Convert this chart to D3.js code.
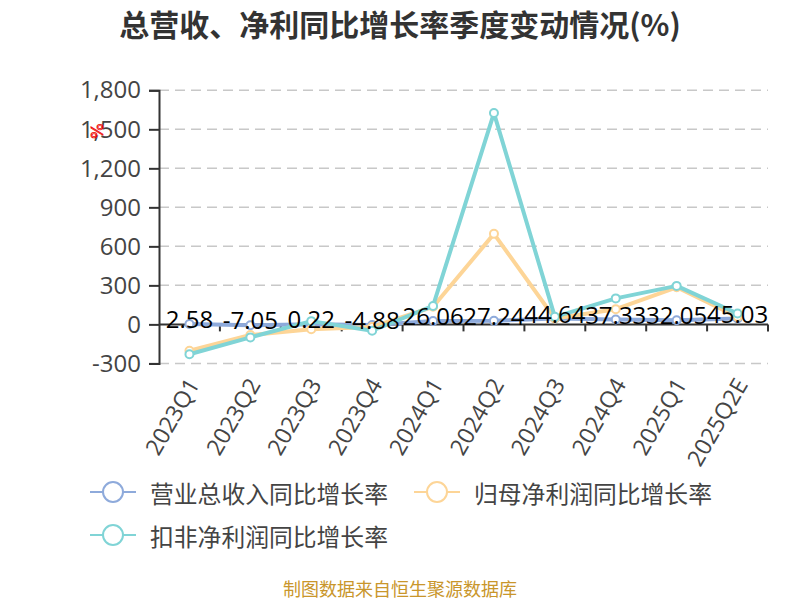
<!DOCTYPE html>
<html>
<head>
<meta charset="utf-8">
<script src="https://cdn.jsdelivr.net/npm/d3@7/dist/d3.min.js"></script>
<style>
  html, body { margin: 0; padding: 0; background: #fff; }
  svg { display: block; }
</style>
</head>
<body>
<svg id="chart" width="800" height="600"></svg>
<script>
const categories = ["2023Q1","2023Q2","2023Q3","2023Q4","2024Q1","2024Q2","2024Q3","2024Q4","2025Q1","2025Q2E"];
const revenueGrowth = [2.58, -7.05, 0.22, -4.88, 26.06, 27.24, 44.64, 37.33, 32.05, 45.03];
const netProfitGrowth = [-203, -82, -38, -20, 135, 696, 45, 117, 285, 58];
const deductedProfitGrowth = [-230, -100, 25, -49, 142, 1625, 58, 200, 296, 84];
const yTicks = [-300, 0, 300, 600, 900, 1200, 1500, 1800];
const seriesNames = ["营业总收入同比增长率", "归母净利润同比增长率", "扣非净利润同比增长率"];
const seriesColors = ["#8eaadb", "#fdd597", "#80d4d6"];
const titleText = "总营收、净利同比增长率季度变动情况(%)";
const footerText = "制图数据来自恒生聚源数据库";

(function () {
const svg = d3.select("#chart");
const font = "'Open Sans', 'Noto Sans CJK SC', sans-serif";
const pLeft = 159, pRight = 768, pTop = 90.3, pBottom = 363.4;

const x = d3.scaleBand().domain(categories).range([pLeft, pRight]);
const cx = c => x(c) + x.bandwidth() / 2;
const y = d3.scaleLinear().domain([-300, 1800]).range([pBottom, pTop]);
const fmt = d => d3.format(",")(d).replace("−", "-");

// title
svg.append("text").attr("x", 400).attr("y", 36).attr("text-anchor", "middle")
  .attr("font-family", "'Noto Sans CJK SC', sans-serif").attr("font-weight", "bold")
  .attr("font-size", 30).attr("fill", "#333").text(titleText);

// grid
svg.append("g").selectAll("line").data(yTicks.filter(d => d !== 0)).join("line")
  .attr("x1", pLeft).attr("x2", pRight)
  .attr("y1", d => y(d)).attr("y2", d => y(d))
  .attr("stroke", "#c8c8c8").attr("stroke-width", 1.5).attr("stroke-dasharray", "10,6");

// y axis
const yAxis = svg.append("g").attr("transform", `translate(${pLeft},0)`)
  .call(d3.axisLeft(y).tickValues(yTicks).tickSize(10).tickPadding(8).tickFormat(fmt));
yAxis.select(".domain").attr("stroke", "#333").attr("stroke-width", 2);
yAxis.selectAll(".tick line").attr("stroke", "#333").attr("stroke-width", 2);
yAxis.selectAll(".tick text").attr("font-family", font).attr("font-size", 24).attr("fill", "#444");

// red % unit mark
svg.append("text").attr("transform", "translate(96,131) rotate(90)")
  .attr("text-anchor", "middle").attr("dominant-baseline", "central")
  .attr("font-family", "'DejaVu Sans', sans-serif").attr("font-size", 16)
  .attr("fill", "none").attr("stroke", "#e00").attr("stroke-width", 0.8).text("%");

// x axis at zero
const xAxisG = svg.append("g").attr("transform", `translate(0,${y(0)})`);
xAxisG.append("line").attr("x1", pLeft).attr("x2", pRight).attr("y1", 0).attr("y2", 0)
  .attr("stroke", "#333").attr("stroke-width", 2);
const boundaries = categories.map(c => x(c)).concat([x(categories[categories.length - 1]) + x.bandwidth()]);
xAxisG.selectAll("line.tk").data(boundaries.slice(1)).join("line").attr("class", "tk")
  .attr("x1", d => d).attr("x2", d => d).attr("y1", 0).attr("y2", 7)
  .attr("stroke", "#333").attr("stroke-width", 2);

// x labels
svg.append("g").selectAll("text").data(categories).join("text")
  .attr("transform", c => `translate(${cx(c) + 4},${pBottom + 17}) rotate(-60)`)
  .attr("text-anchor", "end").attr("dy", "0.35em")
  .attr("font-family", font).attr("font-size", 23).attr("fill", "#444").text(c => c);

// series
const allSeries = [revenueGrowth, netProfitGrowth, deductedProfitGrowth];
const line = d3.line().x((d, i) => cx(categories[i])).y(d => y(d));
allSeries.forEach((vals, si) => {
  const g = svg.append("g");
  g.append("path").datum(vals).attr("d", line).attr("fill", "none")
    .attr("stroke", seriesColors[si]).attr("stroke-width", 4).attr("stroke-linejoin", "round");
  g.selectAll("circle").data(vals).join("circle")
    .attr("cx", (d, i) => cx(categories[i])).attr("cy", d => y(d)).attr("r", 4)
    .attr("fill", "#fff").attr("stroke", seriesColors[si]).attr("stroke-width", 2);
});

// data labels for revenue
svg.append("g").selectAll("text").data(revenueGrowth).join("text")
  .attr("x", (d, i) => cx(categories[i])).attr("y", d => y(d) + 4)
  .attr("text-anchor", "middle").attr("font-family", font).attr("font-size", 24)
  .attr("fill", "#000").text(d => d.toFixed(2));

// legend
const legendItems = [
  { name: seriesNames[0], color: seriesColors[0], x: 90, y: 492 },
  { name: seriesNames[1], color: seriesColors[1], x: 414, y: 492 },
  { name: seriesNames[2], color: seriesColors[2], x: 90, y: 535 }
];
const lg = svg.append("g").selectAll("g").data(legendItems).join("g")
  .attr("transform", d => `translate(${d.x},${d.y})`);
lg.append("line").attr("x1", 0).attr("x2", 46).attr("y1", 0).attr("y2", 0)
  .attr("stroke", d => d.color).attr("stroke-width", 2);
lg.append("circle").attr("cx", 23).attr("cy", 0).attr("r", 10)
  .attr("fill", "#fff").attr("stroke", d => d.color).attr("stroke-width", 2);
lg.append("text").attr("x", 60).attr("y", 0).attr("dominant-baseline", "central")
  .attr("font-family", "'Noto Sans CJK SC', sans-serif").attr("font-size", 23.8)
  .attr("fill", "#444").text(d => d.name);

// footer
svg.append("text").attr("x", 400).attr("y", 596).attr("text-anchor", "middle")
  .attr("font-family", "'Noto Sans CJK SC', sans-serif").attr("font-size", 18)
  .attr("fill", "#c9962b").text(footerText);
})();
</script>
</body>
</html>
